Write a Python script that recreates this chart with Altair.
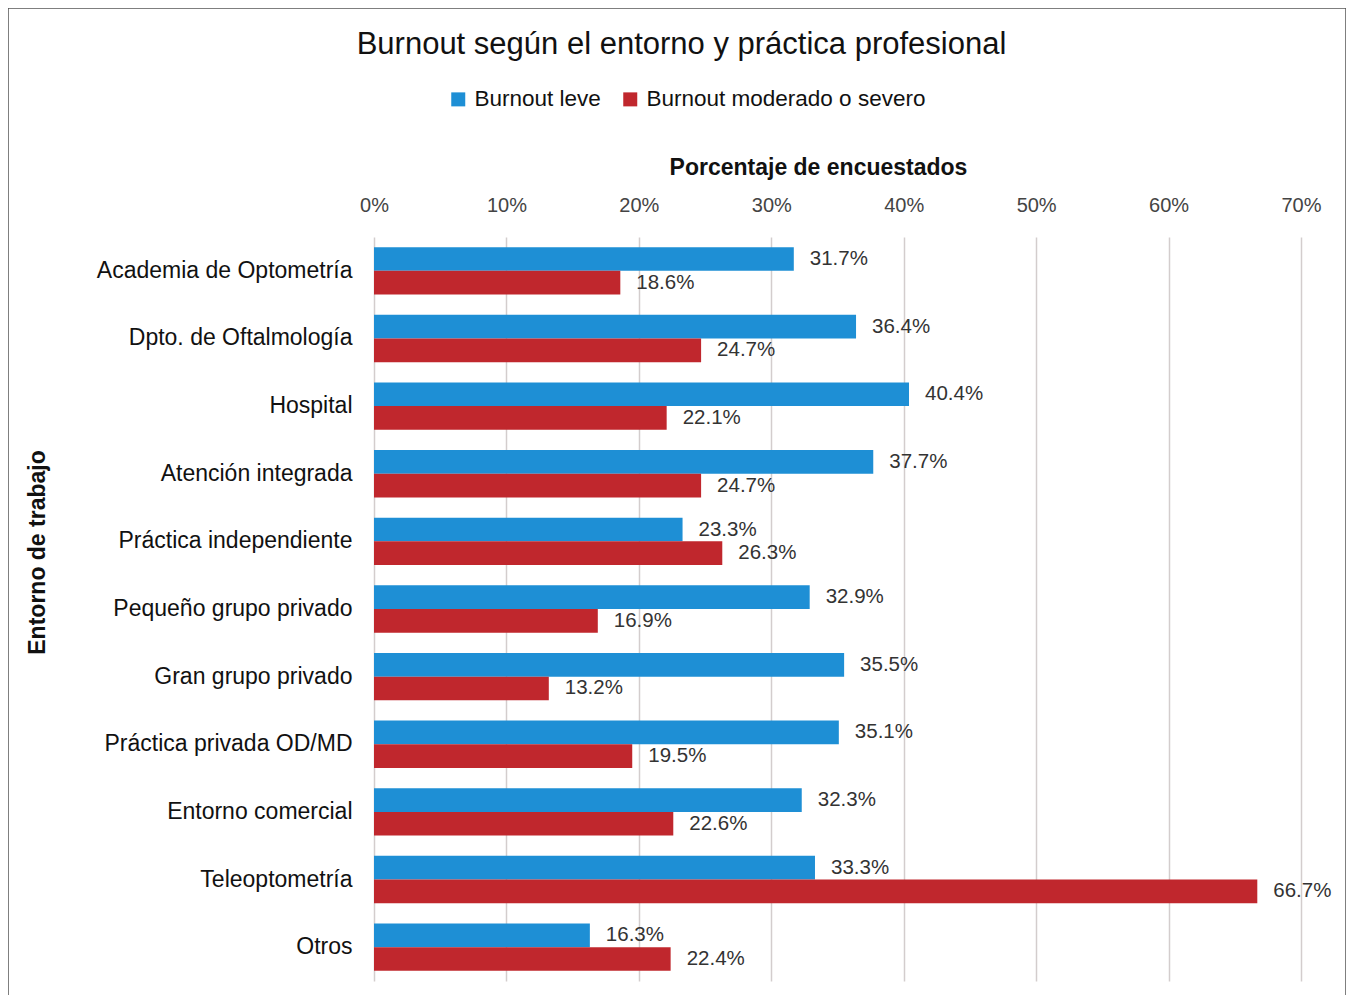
import altair as alt
import pandas as pd

categories = [
    "Academia de Optometría", "Dpto. de Oftalmología", "Hospital",
    "Atención integrada", "Práctica independiente", "Pequeño grupo privado",
    "Gran grupo privado", "Práctica privada OD/MD", "Entorno comercial",
    "Teleoptometría", "Otros",
]
series = ["Burnout leve", "Burnout moderado o severo"]
leve = [31.7, 36.4, 40.4, 37.7, 23.3, 32.9, 35.5, 35.1, 32.3, 33.3, 16.3]
severo = [18.6, 24.7, 22.1, 24.7, 26.3, 16.9, 13.2, 19.5, 22.6, 66.7, 22.4]
tick_values = [0, 10, 20, 30, 40, 50, 60, 70]
colors = ["#1e8fd5", "#c0272d"]

rows = []
for c, a, b in zip(categories, leve, severo):
    rows.append({"cat": c, "serie": series[0], "val": a})
    rows.append({"cat": c, "serie": series[1], "val": b})
df = pd.DataFrame(rows)

FONT = "Liberation Sans"

base = alt.Chart(df).encode(
    y=alt.Y("cat:N", sort=categories,
            scale=alt.Scale(paddingInner=0.3, paddingOuter=0.15),
            axis=alt.Axis(title="Entorno de trabajo", labelFontSize=23, labelColor="#111111",
                          labelFont=FONT, labelPadding=22, labelLimit=0, ticks=False, domain=False,
                          titleFont=FONT, titleFontSize=23, titleFontWeight="bold",
                          titleColor="#111111", titleX=-337, titleY=315,
                          titleAlign="center", titleBaseline="middle", titleAngle=-90)),
    yOffset=alt.YOffset("serie:N", sort=series, scale=alt.Scale(paddingInner=0, paddingOuter=0)),
)

bars = base.mark_bar().encode(
    x=alt.X("val:Q", scale=alt.Scale(domain=[0, 70], nice=False),
            axis=alt.Axis(orient="top", values=tick_values, labelExpr="datum.value + '%'",
                          title="Porcentaje de encuestados", titleFont=FONT, titleFontSize=23,
                          titleFontWeight="bold", titleColor="#111111", titleX=444, titleY=-70,
                          titleBaseline="middle", labelFont=FONT, labelFontSize=20,
                          labelColor="#444444", labelPadding=22, labelFlush=False,
                          ticks=False, domain=False,
                          grid=True, gridColor="#d3cdcd", gridWidth=1.5)),
    color=alt.Color("serie:N", sort=series,
                    scale=alt.Scale(domain=series, range=colors),
                    legend=alt.Legend(title=None, orient="none", legendX=73, legendY=-149,
                                      direction="horizontal", symbolType="square",
                                      symbolSize=196, symbolStrokeWidth=0,
                                      labelFont=FONT, labelFontSize=22.5, labelColor="#111111",
                                      labelLimit=0, labelOffset=5, columnPadding=18)),
)

labels = base.mark_text(align="left", baseline="middle", dx=16, font=FONT,
                        fontSize=20.5, color="#333333").transform_calculate(
    lbl="format(datum.val, '.1f') + '%'"
).encode(x=alt.X("val:Q"), text="lbl:N")

frame = alt.Chart(pd.DataFrame({"a": [0]})).mark_rect(
    fillOpacity=0, stroke="#555555", strokeWidth=1.5
).encode(x=alt.value(-366), x2=alt.value(972), y=alt.value(-229), y2=alt.value(820))

chart = alt.layer(frame, bars, labels).properties(
    width=927, height=744,
    title=alt.TitleParams("Burnout según el entorno y práctica profesional",
                          font=FONT, fontSize=31, fontWeight="normal", color="#111111",
                          anchor="middle", dx=-156, dy=58),
    autosize=alt.AutoSizeParams(type="none"),
    padding={"left": 366, "top": 229, "right": 45, "bottom": 14},
).configure(background="white", view=alt.ViewConfig(stroke=None))

chart.save("out.html", embed_options={"renderer": "svg", "actions": False})
